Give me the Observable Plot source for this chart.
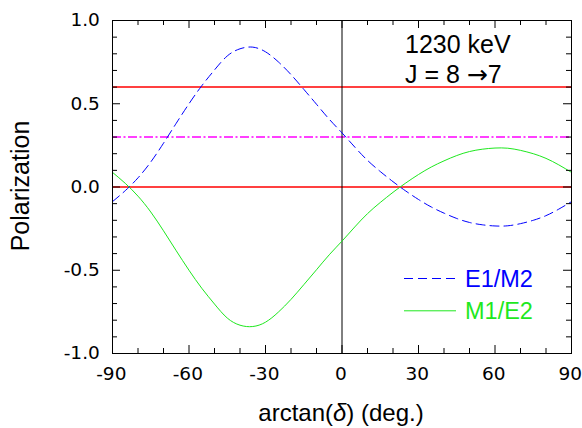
<!DOCTYPE html>
<html><head><meta charset="utf-8">
<script src="https://cdn.jsdelivr.net/npm/d3@7"></script>
<script src="https://cdn.jsdelivr.net/npm/@observablehq/plot@0.6"></script>
<style>body{margin:0;background:#fff;}</style>
</head><body><div id="chart"></div>
<script>
// mixing-ratio angle arctan(delta) in degrees
const angles = [-90,-85,-80,-75,-70,-65,-60,-55,-50,-45,-40,-35,-30,-25,-20,-15,-10,-5,0,5,10,15,20,25,30,35,40,45,50,55,60,65,70,75,80,85,90];
// polarization
const polE1M2 = [-0.088,-0.022,0.055,0.150,0.263,0.383,0.500,0.608,0.703,0.787,0.830,0.840,0.812,0.752,0.675,0.587,0.497,0.407,0.325,0.240,0.160,0.093,0.032,-0.024,-0.075,-0.120,-0.157,-0.189,-0.213,-0.227,-0.234,-0.233,-0.220,-0.200,-0.172,-0.133,-0.088];
const polM1E2 = [0.088,0.022,-0.055,-0.150,-0.263,-0.383,-0.500,-0.608,-0.703,-0.787,-0.830,-0.838,-0.812,-0.752,-0.675,-0.587,-0.497,-0.407,-0.325,-0.240,-0.160,-0.093,-0.032,0.024,0.075,0.120,0.157,0.189,0.213,0.227,0.234,0.233,0.220,0.200,0.172,0.133,0.088];
const seriesNames = ["E1/M2", "M1/E2"];
const redLevels = [0, 0.6];
const magentaLevels = [0.3];
const xMajorTicks = [-90,-60,-30,0,30,60,90];
const xMinorTicks = [-80,-70,-50,-40,-20,-10,10,20,40,50,70,80];
const yMajorTicks = [-1,-0.5,0,0.5,1];
const yMinorTicks = [-0.9,-0.8,-0.7,-0.6,-0.4,-0.3,-0.2,-0.1,0.1,0.2,0.3,0.4,0.6,0.7,0.8,0.9];
const annotationLine1 = "1230 keV";
const annotationLine2 = ["J = 8 ", "\u2192", "7"];
const xLabelParts = ["arctan(", "\u03B4", ") (deg.)"];
const yLabel = "Polarization";

const rowsE1M2 = angles.map((a, i) => ({angle: a, pol: polE1M2[i]}));
const rowsM1E2 = angles.map((a, i) => ({angle: a, pol: polM1E2[i]}));

const BLUE = "#0000ff", GREEN = "#1ee81e";
const frameW = 582 - 112 - 11, frameH = 428 - 20 - 75;

function overlay() {
  const g = d3.create("svg:g").attr("font-family", "'Liberation Sans', Arial, sans-serif").attr("text-anchor", "start");
  // x label
  const xt = g.append("text").attr("x", 341).attr("y", 421).attr("text-anchor", "middle").attr("font-size", 24).attr("fill", "black");
  xt.append("tspan").text(xLabelParts[0]);
  xt.append("tspan").attr("font-style", "italic").text(xLabelParts[1]);
  xt.append("tspan").text(xLabelParts[2]);
  // y label
  g.append("text").attr("transform", "translate(28.5,186) rotate(-90)").attr("text-anchor", "middle")
    .attr("font-size", 25).attr("fill", "black").text(yLabel);
  // annotation
  g.append("text").attr("x", 405).attr("y", 53.3).attr("text-anchor", "start").attr("font-size", 25).attr("fill", "black").text(annotationLine1);
  const a2 = g.append("text").attr("x", 405).attr("y", 83).attr("text-anchor", "start").attr("font-size", 25).attr("fill", "black");
  a2.append("tspan").text(annotationLine2[0]);
  a2.append("tspan").attr("font-family", "'DejaVu Sans', sans-serif").text(annotationLine2[1]);
  a2.append("tspan").text(annotationLine2[2]);
  // legend
  const leg = [{name: seriesNames[0], color: BLUE, dash: "9,5", y: 278.5}, {name: seriesNames[1], color: GREEN, dash: null, y: 310.8}];
  for (const l of leg) {
    g.append("line").attr("x1", 404).attr("x2", 456).attr("y1", l.y).attr("y2", l.y)
      .attr("stroke", l.color).attr("stroke-width", 1).attr("stroke-dasharray", l.dash);
    g.append("text").attr("x", 465).attr("y", l.y + 8.4).attr("text-anchor", "start").attr("font-size", 23.5).attr("fill", l.color).text(l.name);
  }
  return g.node();
}

const chart = Plot.plot({
  width: 582, height: 428,
  marginLeft: 112, marginRight: 11, marginTop: 20, marginBottom: 75,
  x: {domain: [-90, 90]},
  y: {domain: [-1, 1]},
  style: {fontFamily: "'DejaVu Sans', sans-serif", fontSize: "18.5px", color: "black", background: "white"},
  marks: [
    Plot.ruleY(magentaLevels, {stroke: "#ff00ff", strokeWidth: 1.4, strokeDasharray: "9,2.5,2,2.5"}),
    Plot.ruleY(redLevels, {stroke: "#ff0000", strokeWidth: 1.5}),
    Plot.ruleX([0], {stroke: "black", strokeWidth: 1}),
    Plot.line(rowsE1M2, {x: "angle", y: "pol", stroke: BLUE, strokeWidth: 1, strokeDasharray: "9,5", curve: "natural"}),
    Plot.line(rowsM1E2, {x: "angle", y: "pol", stroke: GREEN, strokeWidth: 1, curve: "natural"}),
    // inward ticks, bottom & top
    Plot.tickX(xMajorTicks, {x: d => d, stroke: "black", insetTop: frameH - 8}),
    Plot.tickX(xMinorTicks, {x: d => d, stroke: "black", insetTop: frameH - 5}),
    Plot.tickX(xMajorTicks, {x: d => d, stroke: "black", insetBottom: frameH - 8}),
    Plot.tickX(xMinorTicks, {x: d => d, stroke: "black", insetBottom: frameH - 5}),
    // inward ticks, left & right
    Plot.tickY(yMajorTicks, {y: d => d, stroke: "black", insetRight: frameW - 8}),
    Plot.tickY(yMinorTicks, {y: d => d, stroke: "black", insetRight: frameW - 5}),
    Plot.tickY(yMajorTicks, {y: d => d, stroke: "black", insetLeft: frameW - 8}),
    Plot.tickY(yMinorTicks, {y: d => d, stroke: "black", insetLeft: frameW - 5}),
    Plot.axisX({ticks: xMajorTicks, tickSize: 0, tickPadding: 13, dx: -1.2, tickFormat: d => String(d), label: null}),
    Plot.axisY({ticks: yMajorTicks, tickSize: 0, tickPadding: 12.7, tickFormat: d => d.toFixed(1), label: null}),
    Plot.frame({stroke: "black", strokeWidth: 1}),
    overlay
  ]
});
document.getElementById("chart").appendChild(chart);
</script>
</body></html>
